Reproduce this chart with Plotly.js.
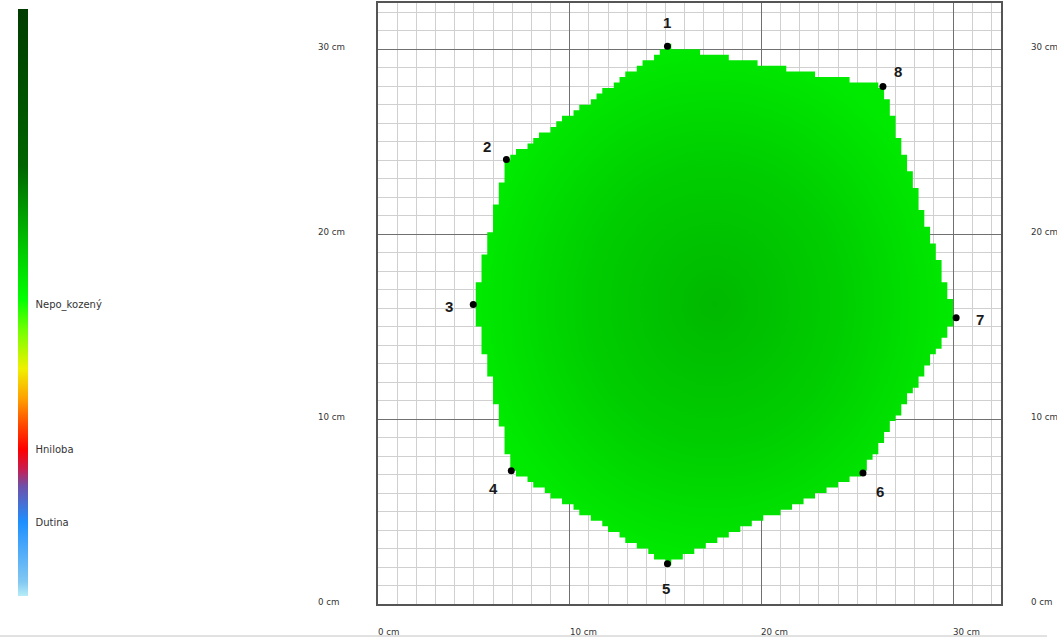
<!DOCTYPE html>
<html>
<head>
<meta charset="utf-8">
<script src="https://cdn.plot.ly/plotly-3.0.1.min.js"></script>
<style>
  html, body { margin: 0; padding: 0; background: #ffffff; }
  #chart { width: 1057px; height: 639px; }
</style>
</head>
<body>
<div id="chart"></div>
<script>
// Sensor positions around the trunk cross-section (cm), in order round the stem
const sensorIds = ['1', '2', '3', '4', '5', '6', '7', '8'];
const sensorX = [15.1, 6.7, 4.97, 6.95, 15.1, 25.3, 30.16, 26.34];
const sensorY = [30.16, 24.04, 16.19, 7.2, 2.17, 7.09, 15.48, 27.99];

// Axis ticks
const axisTicks = [0, 10, 20, 30];
const axisTickText = ['0 cm', '10 cm', '20 cm', '30 cm'];

// Wood condition classes on the colour scale
const classValues = [0.126, 0.25, 0.497];
const classNames = ['Dutina', 'Hniloba', 'Nepo_kozený'];

// Colour scale of the tomogram legend
const scaleStops = [0, 0.024, 0.126, 0.187, 0.216, 0.25, 0.29, 0.336, 0.387, 0.45, 0.506, 0.591, 0.676, 0.733, 1];
const scaleColors = [
  'rgb(182,236,246)', 'rgb(130,200,242)', 'rgb(30,144,255)', 'rgb(110,80,170)', 'rgb(200,30,80)',
  'rgb(255,0,0)', 'rgb(255,70,0)', 'rgb(255,160,0)', 'rgb(240,240,0)', 'rgb(120,255,0)',
  'rgb(0,255,0)', 'rgb(0,200,0)', 'rgb(0,140,0)', 'rgb(0,100,0)', 'rgb(0,60,0)'
];

// Shading of the sound-wood area, centre to rim
const woodShadeStops = [0, 0.55, 1];
const woodShadeColors = ['rgb(0,184,0)', 'rgb(0,206,0)', 'rgb(0,234,0)'];

// Raster cell size of the tomogram (cm)
const cellSize = 0.3;

// Label placement next to each sensor dot (px)
const labelDx = [0, -19, -24, -18, -1, 17, 24, 15];
const labelDy = [24, 13, -2, -18, -25, -19, -2, 15];

// Row-wise extent of the sensor polygon at height y
function rowExtent(y) {
  let lo = Infinity, hi = -Infinity;
  const n = sensorX.length;
  for (let i = 0; i < n; i++) {
    const x1 = sensorX[i], y1 = sensorY[i];
    const x2 = sensorX[(i + 1) % n], y2 = sensorY[(i + 1) % n];
    if ((y >= Math.min(y1, y2)) && (y <= Math.max(y1, y2)) && y1 !== y2) {
      const x = x1 + (y - y1) / (y2 - y1) * (x2 - x1);
      lo = Math.min(lo, x); hi = Math.max(hi, x);
    }
  }
  return lo <= hi ? [lo, hi] : null;
}

// Outline of the raster cells whose centres fall inside the sensor polygon
const rows = [];
const nRows = Math.ceil(32.5 / cellSize);
for (let j = 0; j < nRows; j++) {
  const yc = (j + 0.5) * cellSize;
  const ext = rowExtent(yc);
  if (!ext) continue;
  const i0 = Math.ceil(ext[0] / cellSize - 0.5);
  const i1 = Math.floor(ext[1] / cellSize - 0.5);
  if (i1 < i0) continue;
  rows.push({ y0: j * cellSize, y1: (j + 1) * cellSize, left: i0 * cellSize, right: (i1 + 1) * cellSize });
}
const outX = [], outY = [];
rows.forEach(r => { outX.push(r.right, r.right); outY.push(r.y0, r.y1); });
rows.slice().reverse().forEach(r => { outX.push(r.left, r.left); outY.push(r.y1, r.y0); });

const colorscale = scaleStops.map((s, i) => [s, scaleColors[i]]);
const woodScale = woodShadeStops.map((s, i) => [s, woodShadeColors[i]]);

const W = 1057, H = 639;
const mL = 378, mR = 56, mT = 3, mB = 35;
const plotW = W - mL - mR, plotH = H - mT - mB;
const px2paperX = px => (px - mL) / plotW;
const px2paperY = py => (H - mB - py) / plotH;

const textFont = { family: 'DejaVu Sans, Verdana, sans-serif', size: 8.7, color: '#333333' };

const traces = [
  {
    type: 'scatter', x: outX, y: outY, mode: 'lines',
    line: { width: 0, color: 'rgba(0,0,0,0)' },
    fill: 'toself', fillcolor: 'rgb(0,206,0)',
    fillgradient: { type: 'radial', colorscale: woodScale },
    hoverinfo: 'skip', showlegend: false
  },
  {
    type: 'scatter', x: sensorX, y: sensorY, mode: 'markers',
    marker: { size: 7, color: '#000000' },
    text: sensorIds, hoverinfo: 'text', showlegend: false
  },
  {
    type: 'scatter', x: [null], y: [null], mode: 'markers',
    marker: {
      color: [classValues[2]], cmin: 0, cmax: 1, colorscale: colorscale, showscale: true,
      colorbar: {
        xref: 'container', yref: 'container',
        x: 18 / W, xanchor: 'left', xpad: 0,
        y: 1 - 634 / H, yanchor: 'bottom', ypad: 0,
        lenmode: 'pixels', len: 587, thicknessmode: 'pixels', thickness: 10,
        outlinewidth: 0, borderwidth: 0,
        tickmode: 'array', tickvals: classValues, ticktext: classNames,
        ticks: 'outside', ticklen: 6, tickcolor: 'rgba(0,0,0,0)',
        tickfont: { family: 'DejaVu Sans, Verdana, sans-serif', size: 10, color: '#333333' }
      }
    },
    hoverinfo: 'skip', showlegend: false
  }
];

const annotations = [];
axisTicks.forEach((v, i) => {
  annotations.push({ xref: 'x', yref: 'paper', x: v, y: px2paperY(632), text: axisTickText[i],
    showarrow: false, xanchor: 'left', yanchor: 'middle', xshift: -2, font: textFont });
  annotations.push({ xref: 'paper', yref: 'y', x: px2paperX(316), y: v, text: axisTickText[i],
    showarrow: false, xanchor: 'left', yanchor: 'middle', yshift: 2, font: textFont });
  annotations.push({ xref: 'paper', yref: 'y', x: px2paperX(1029), y: v, text: axisTickText[i],
    showarrow: false, xanchor: 'left', yanchor: 'middle', yshift: 2, font: textFont });
});
sensorIds.forEach((id, i) => {
  annotations.push({ xref: 'x', yref: 'y', x: sensorX[i], y: sensorY[i], text: '<b>' + id + '</b>',
    showarrow: false, xanchor: 'center', yanchor: 'middle', xshift: labelDx[i], yshift: labelDy[i],
    font: { family: 'Liberation Sans, Arial, sans-serif', size: 15, color: '#1a1a1a' } });
});

const axisBase = {
  range: [0, 32.5], tick0: 0, dtick: 10,
  showgrid: true, gridcolor: '#707070', gridwidth: 1,
  minor: { tick0: 0, dtick: 1, showgrid: true, gridcolor: '#d0d0d0', gridwidth: 1 },
  showticklabels: false, ticks: '', zeroline: false,
  showline: true, mirror: true, linecolor: '#555555', linewidth: 2,
  fixedrange: true
};

const layout = {
  width: W, height: H,
  margin: { l: mL, r: mR, t: mT, b: mB, pad: 0 },
  paper_bgcolor: '#ffffff', plot_bgcolor: '#ffffff',
  showlegend: false,
  xaxis: Object.assign({}, axisBase),
  yaxis: Object.assign({}, axisBase),
  annotations: annotations,
  shapes: [{
    type: 'line', xref: 'paper', yref: 'paper',
    x0: px2paperX(0), x1: px2paperX(1047), y0: px2paperY(636), y1: px2paperY(636),
    line: { color: '#c4c4c4', width: 1 }
  }],
  hovermode: 'closest'
};

Plotly.newPlot('chart', traces, layout, { displayModeBar: false, staticPlot: false });
</script>
</body>
</html>
